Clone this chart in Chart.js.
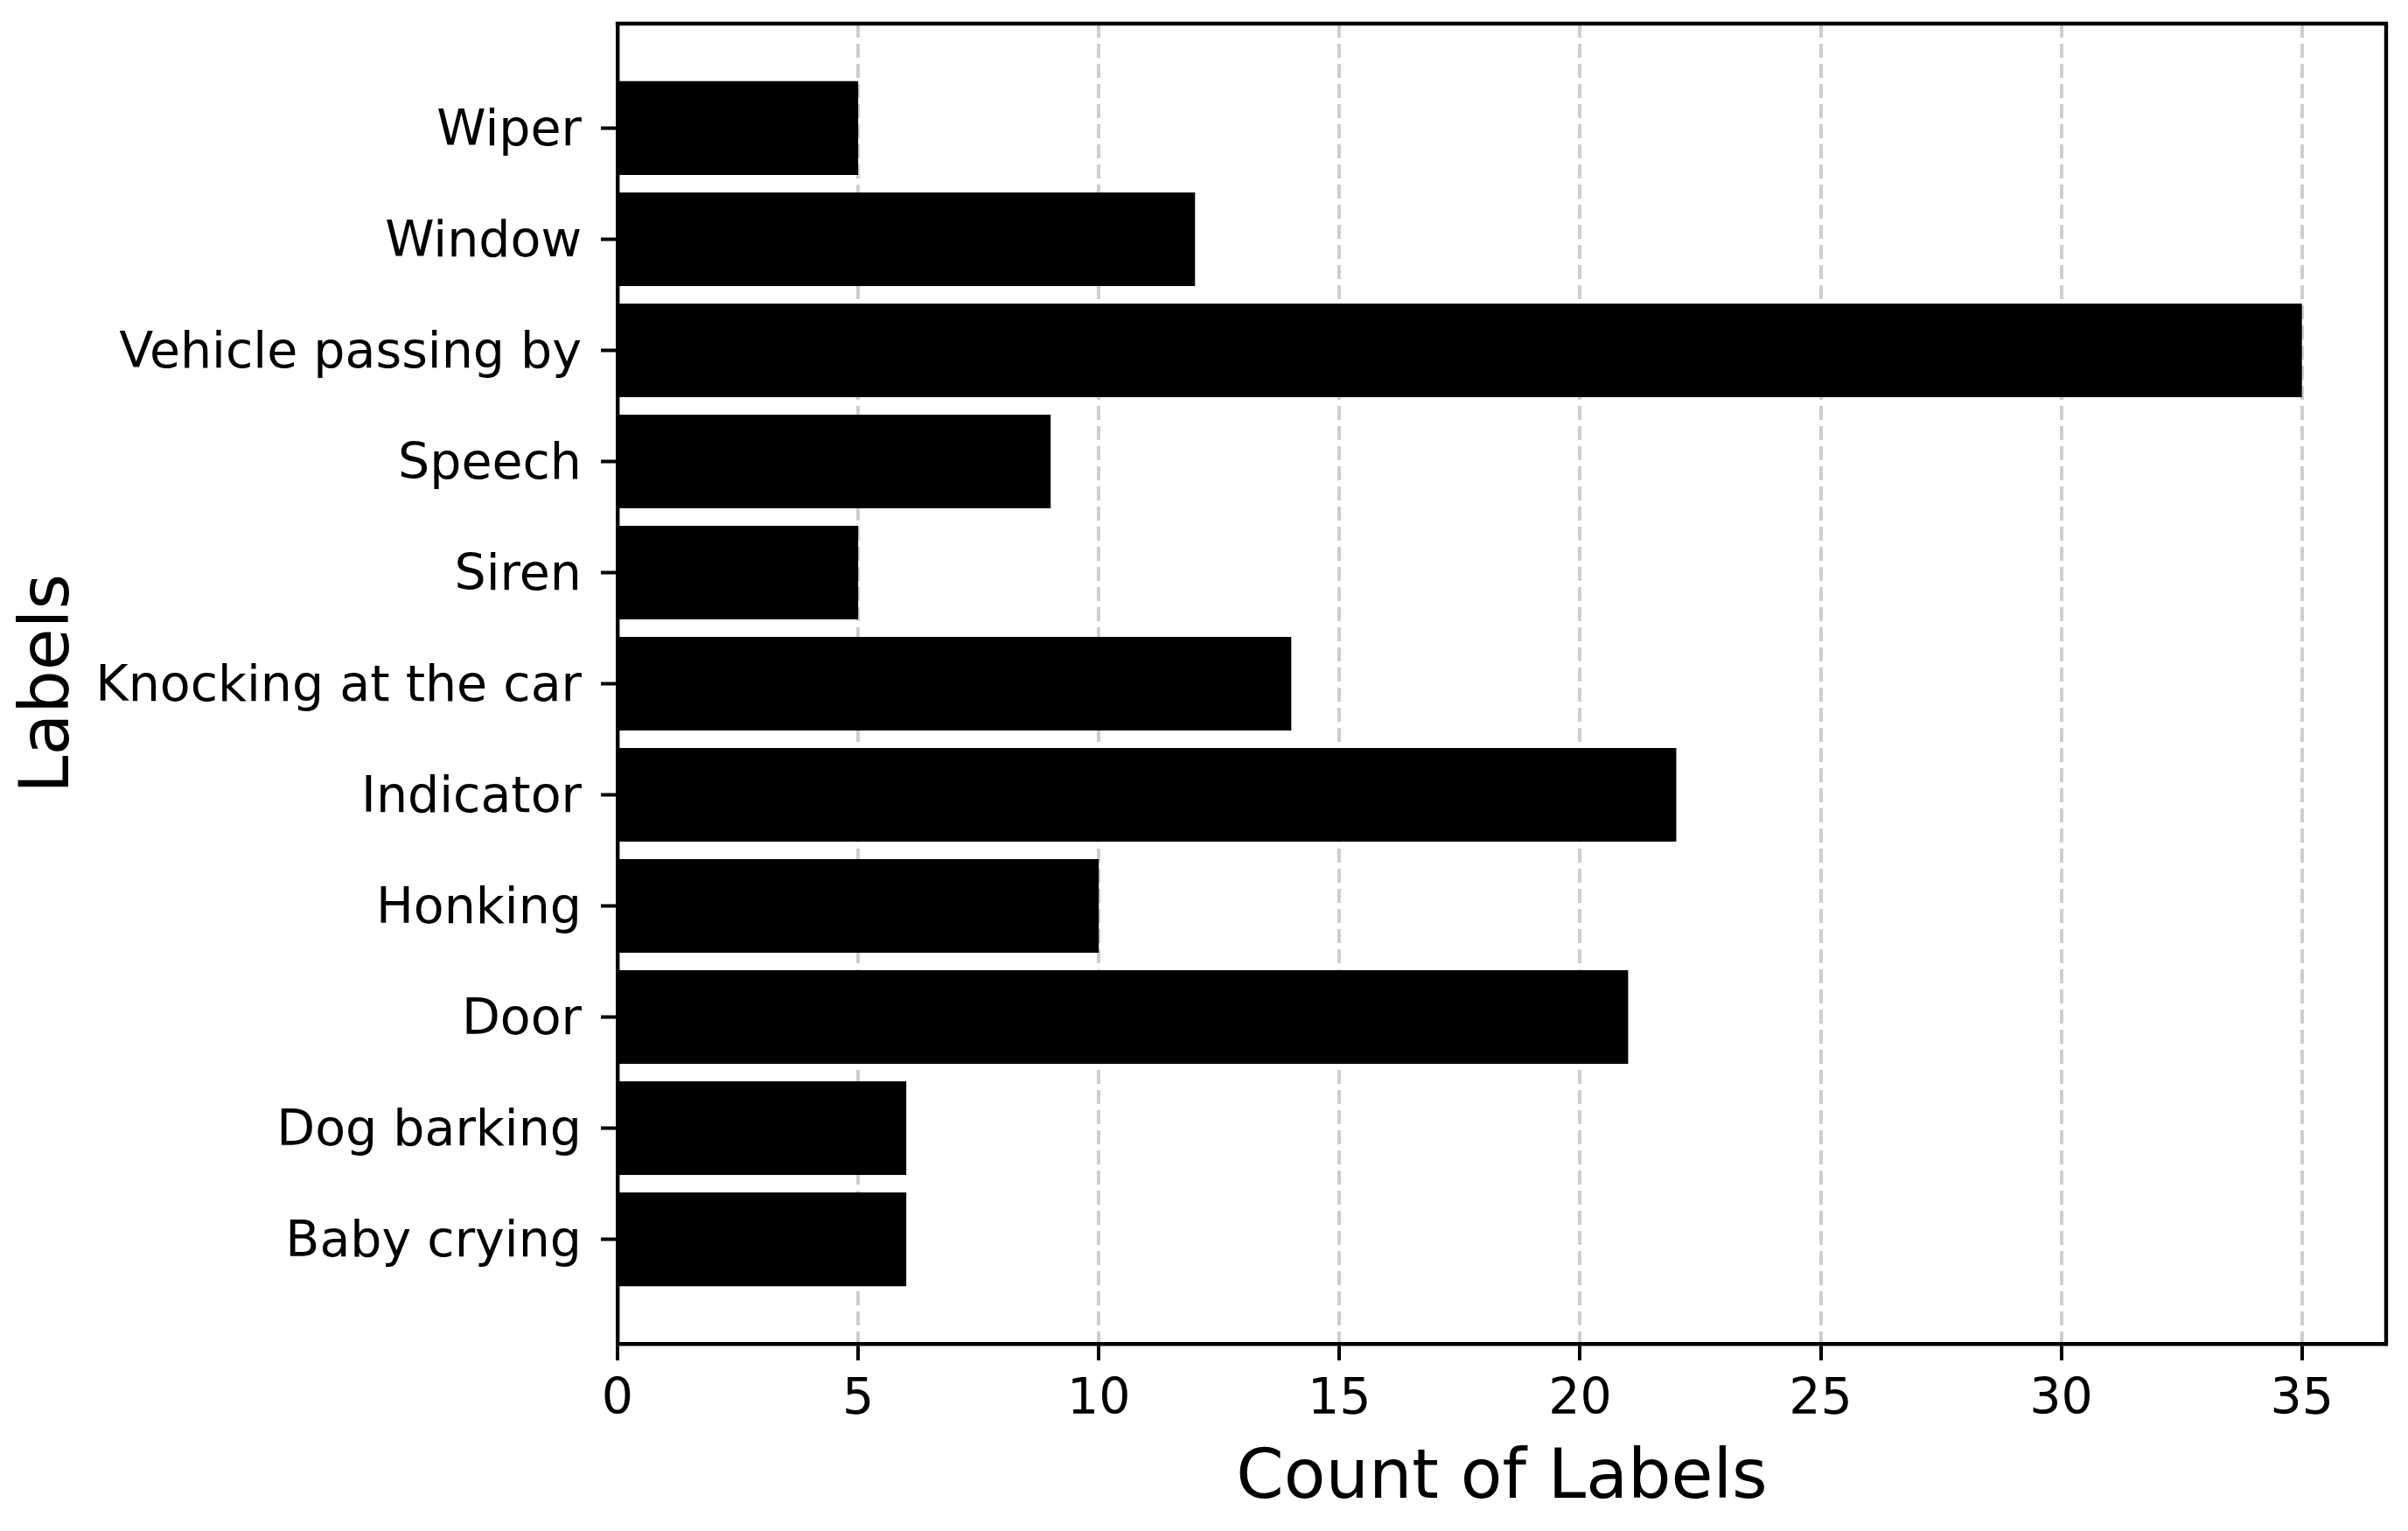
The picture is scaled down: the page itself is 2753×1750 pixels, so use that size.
<!DOCTYPE html>
<html>
<head>
<meta charset="utf-8">
<script src="https://cdn.jsdelivr.net/npm/chart.js@4/dist/chart.umd.min.js"></script>
<style>
  html, body { margin: 0; padding: 0; background: #ffffff; }
  canvas { display: block; }
</style>
</head>
<body>
<canvas id="c" width="2753" height="1750"></canvas>
<script>
const categories = ["Baby crying", "Dog barking", "Door", "Honking", "Indicator",
  "Knocking at the car", "Siren", "Speech", "Vehicle passing by", "Window", "Wiper"];
const counts = [6, 6, 21, 10, 22, 14, 5, 9, 35, 12, 5];
const xTicks = [0, 5, 10, 15, 20, 25, 30, 35];
const xTitle = "Count of Labels";
const yTitle = "Labels";

const FONT = "'DejaVu Sans', 'Liberation Sans', sans-serif";
const LW = 4.4;

const framePlugin = {
  id: 'frame',
  afterDraw(chart) {
    const { ctx, chartArea: a } = chart;
    ctx.save();
    ctx.strokeStyle = '#000';
    ctx.lineWidth = LW;
    ctx.lineCap = 'square';
    ctx.beginPath();
    ctx.moveTo(a.left, a.top);
    ctx.lineTo(a.right, a.top);
    ctx.lineTo(a.right, a.bottom);
    ctx.stroke();
    ctx.restore();
  }
};

new Chart(document.getElementById('c'), {
  type: 'bar',
  data: {
    datasets: [{
      data: categories.map((c, i) => ({ x: counts[i], y: i })),
      backgroundColor: '#000000',
      borderWidth: 0,
      barPercentage: 0.843,
      categoryPercentage: 1.0
    }]
  },
  options: {
    indexAxis: 'y',
    responsive: false,
    devicePixelRatio: 1,
    animation: false,
    layout: { padding: { top: 27, right: 25, left: 0, bottom: 0 } },
    plugins: { legend: { display: false }, tooltip: { enabled: false } },
    scales: {
      x: {
        type: 'linear',
        position: 'bottom',
        min: 0,
        max: 36.75,
        z: 1,
        afterFit(scale) { scale.height = 214; scale.paddingLeft = 0; scale.paddingRight = 0; },
        afterBuildTicks(scale) { scale.ticks = xTicks.map(v => ({ value: v })); },
        ticks: {
          font: { family: FONT, size: 57 },
          color: '#000',
          padding: 12,
          includeBounds: false
        },
        grid: {
          display: true,
          drawOnChartArea: true,
          color: (ctx) => (ctx.tick && ctx.tick.value === 0) ? 'rgba(0,0,0,0)' : 'rgba(176,176,176,0.62)',
          lineWidth: 4,
          tickColor: '#000',
          tickWidth: 4,
          tickLength: 19,
          tickBorderDash: []
        },
        border: { display: true, color: '#000', width: LW, dash: [16, 7] },
        title: {
          display: true,
          text: xTitle,
          font: { family: FONT, size: 78 },
          color: '#000',
          padding: { top: 0, bottom: 11 }
        }
      },
      y: {
        type: 'linear',
        position: 'left',
        min: -0.94,
        max: 10.94,
        offset: false,
        afterFit(scale) { scale.width = 706; scale.paddingTop = 0; scale.paddingBottom = 0; },
        afterBuildTicks(scale) { scale.ticks = categories.map((c, i) => ({ value: i })); },
        ticks: {
          font: { family: FONT, size: 57 },
          color: '#000',
          padding: 22,
          labelOffset: 5,
          callback: (v) => categories[v]
        },
        grid: {
          display: true,
          offset: false,
          drawOnChartArea: false,
          tickColor: '#000',
          tickWidth: 4,
          tickLength: 19
        },
        border: { display: true, color: '#000', width: LW },
        title: {
          display: true,
          text: yTitle,
          font: { family: FONT, size: 78 },
          color: '#000',
          padding: { top: 11, bottom: 0 }
        }
      }
    }
  },
  plugins: [framePlugin]
});
</script>
</body>
</html>
